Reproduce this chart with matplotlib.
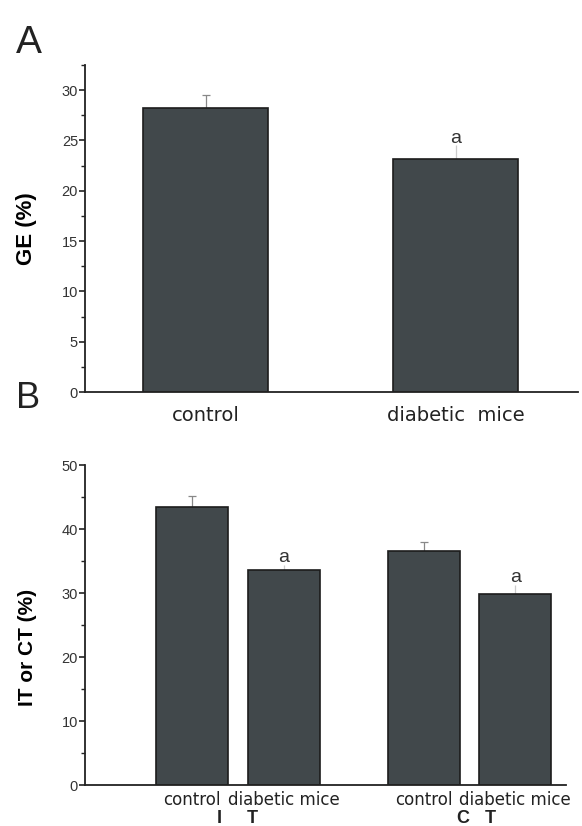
import numpy as np
import matplotlib.pyplot as plt
from matplotlib.ticker import MultipleLocator

# panel A - gastric emptying
ge_groups = ["control", "diabetic  mice"]
ge_values = [28.2, 23.2]
ge_errors = [1.3, 1.3]
ge_marks = ["", "a"]

# panel B - intestinal / colonic transit
tr_groups = ["control", "diabetic mice", "control", "diabetic mice"]
tr_values = [43.4, 33.6, 36.6, 29.8]
tr_errors = [1.8, 0.8, 1.4, 1.5]
tr_marks = ["", "a", "", "a"]
tr_sections = ["I     T", "C   T"]

BAR = "#41484b"
EDGE = "#1c1c1c"
TXT = "#333333"

plt.rcParams['font.family'] = ['Liberation Sans', 'DejaVu Sans']

fig = plt.figure(figsize=(5.82, 8.26), dpi=100)


def style_axis(ax, major, minor):
    for s in ["top", "right"]:
        ax.spines[s].set_visible(False)
    for s in ["left", "bottom"]:
        ax.spines[s].set_linewidth(1.3)
        ax.spines[s].set_color("#222222")
    ax.yaxis.set_major_locator(MultipleLocator(major))
    ax.yaxis.set_minor_locator(MultipleLocator(minor))
    ax.tick_params(axis="y", which="major", direction="out", length=4, width=1.2,
                   labelsize=10.5, labelcolor=TXT, color="#222222", pad=1)
    ax.tick_params(axis="y", which="minor", direction="out", length=3, width=1.0,
                   color="#222222")
    ax.tick_params(axis="x", length=0)


def draw_bars(ax, pos, vals, errs, marks, width, err_colors):
    ax.bar(pos, vals, width=width, color=BAR, edgecolor=EDGE, linewidth=1.2, zorder=2)
    for x, v, e, m, c in zip(pos, vals, errs, marks, err_colors):
        ax.errorbar(x, v, yerr=[[0], [e]], fmt="none", ecolor=c, elinewidth=0.9,
                    capsize=3 if not m else 0, capthick=0.9, zorder=1)
        if m:
            ax.annotate(m, xy=(x, v + e), xytext=(0, -1), textcoords="offset points",
                        ha="center", va="bottom", fontsize=14, color=TXT)


# ---- panel A
axA = fig.add_axes([0.146, 0.5254, 0.847, 0.396])
posA = np.array([1.0, 2.0])
draw_bars(axA, posA, ge_values, ge_errors, ge_marks, 0.5, ["#888888", "#cccccc"])
axA.set_xlim(0.516, 2.488)
axA.set_ylim(0, 32.5)
style_axis(axA, 5, 2.5)
axA.set_xticks(posA)
axA.set_xticklabels(ge_groups, family="DejaVu Sans", fontsize=14, color="#222222")
axA.tick_params(axis="x", pad=10)
axA.set_ylabel("GE (%)", fontsize=16, fontweight="bold")
axA.yaxis.set_label_coords(-0.097, 0.5)
fig.text(0.028, 0.948, "A", fontsize=28, color="#222222", va="center")

# ---- panel B
axB = fig.add_axes([0.146, 0.0496, 0.826, 0.3874])
posB = np.array([1.0, 2.0, 3.53, 4.52])
draw_bars(axB, posB, tr_values, tr_errors, tr_marks, 0.78,
          ["#888888", "#cccccc", "#888888", "#cccccc"])
axB.set_xlim(-0.163, 5.07)
axB.set_ylim(0, 50)
style_axis(axB, 10, 5)
axB.set_xticks(posB)
axB.set_xticklabels(tr_groups, family="DejaVu Sans", fontsize=12, color="#222222")
axB.tick_params(axis="x", pad=4)
axB.set_ylabel("IT or CT (%)", fontsize=15, fontweight="bold")
axB.yaxis.set_label_coords(-0.1, 0.43)
fig.text(0.028, 0.518, "B", fontsize=26, color="#222222", va="center")

# group labels below panel B
shifts = [0, 5]
for i, name in enumerate(tr_sections):
    cx = (posB[2 * i] + posB[2 * i + 1]) / 2
    axB.annotate(name, xy=(cx, 0), xycoords=("data", "axes fraction"),
                 xytext=(shifts[i], -18), textcoords="offset points", ha="center", va="top",
                 fontsize=13, fontweight="bold", color="#222222")

fig.savefig("out.png", dpi=100)
